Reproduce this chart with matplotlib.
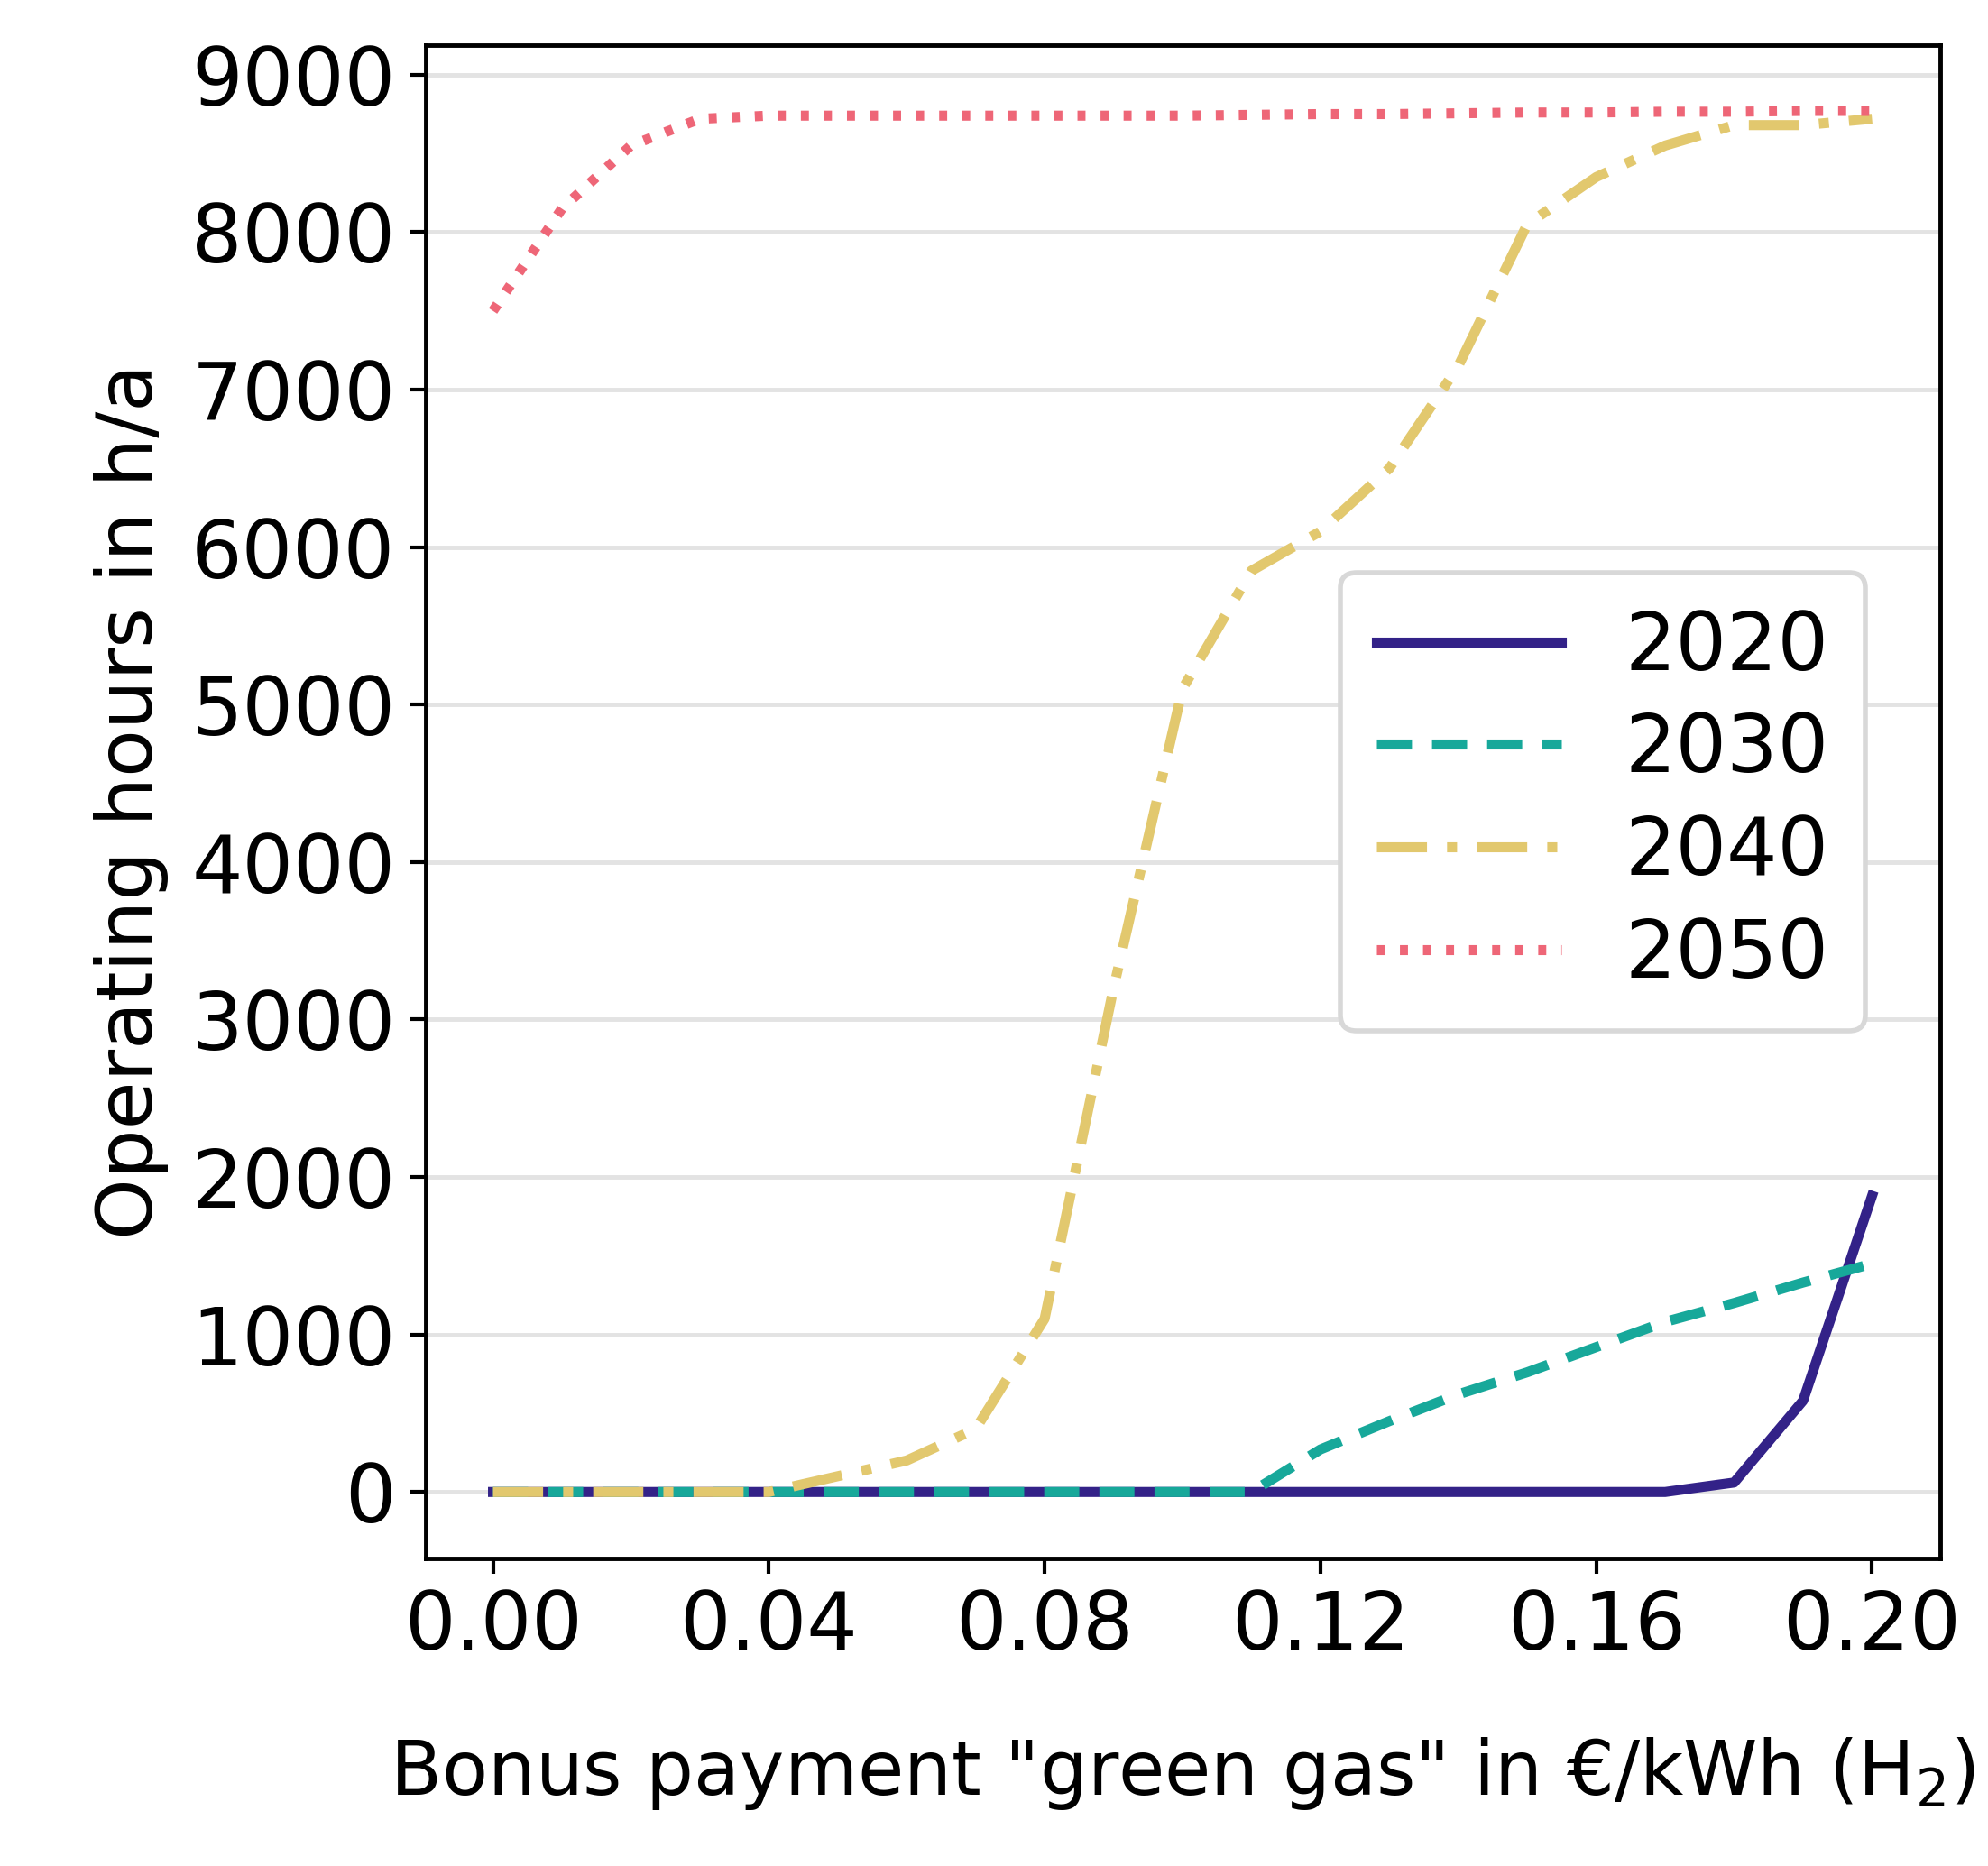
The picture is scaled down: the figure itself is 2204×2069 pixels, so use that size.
import matplotlib
matplotlib.use("Agg")
import matplotlib.pyplot as plt
import numpy as np

bonus = [0.00,0.01,0.02,0.03,0.04,0.05,0.06,0.07,0.08,0.09,0.10,0.11,0.12,0.13,0.14,0.15,0.16,0.17,0.18,0.19,0.20]
h2020 = [0]*18 + [60, 580, 1880]
h2030 = [0]*12 + [270, 450, 620, 760, 920, 1080, 1200, 1330, 1450]
h2040 = [0,0,0,0,0,100,200,400,1100,3200,5100,5850,6100,6500,7150,8050,8350,8550,8680,8680,8720]
h2050 = [7500,8150,8550,8720,8740,8740,8740,8740,8740,8740,8740,8745,8750,8750,8755,8760,8760,8765,8765,8770,8770]
ticks_x = [0.00,0.04,0.08,0.12,0.16,0.20]

fig = plt.figure(figsize=(22.04,20.69), dpi=100)
ax = fig.add_axes([0.214,0.165,0.762,0.811])
lw = 8
ax.plot(bonus, h2020, color="#332288", lw=lw, ls="-", label="2020")
ax.plot(bonus, h2030, color="#17a89a", lw=lw, ls=(0,(3.5,2)), label="2030")
ax.plot(bonus, h2040, color="#E2C86E", lw=lw, ls=(0,(5,2,1,2)), label="2040")
ax.plot(bonus, h2050, color="#EE6677", lw=lw, ls=(0,(0.8,1.5)), label="2050")
ax.set_xlim(-0.0098, 0.2099)
ax.set_ylim(-420, 9190)
ax.set_xticks(ticks_x)
ax.set_xticklabels([f"{t:.2f}" for t in ticks_x])
ax.set_yticks(range(0, 9001, 1000))
ax.yaxis.grid(True, color="#e3e3e3", lw=3.5)
ax.set_axisbelow(True)
ax.tick_params(labelsize=64, width=3, length=12, pad=12)
for s in ax.spines.values():
    s.set_linewidth(3.5)
ax.set_xlabel('Bonus payment "green gas" in €/kWh (H$_2$)', fontsize=60, labelpad=55)
ax.set_ylabel("Operating hours in h/a", fontsize=62, labelpad=18)
leg = ax.legend(loc="center right", bbox_to_anchor=(0.977, 0.50), fontsize=64,
                handlelength=2.3, borderpad=0.45, labelspacing=0.3, framealpha=1,
                edgecolor="#d8d8d8", fancybox=True)
leg.get_frame().set_linewidth(4)
fig.savefig("out.png", dpi=100)
